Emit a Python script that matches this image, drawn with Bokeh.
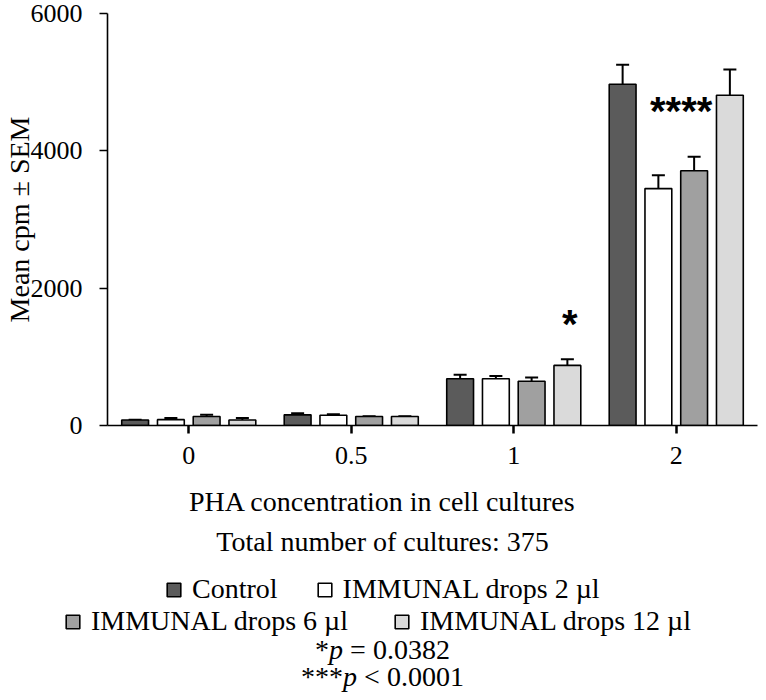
from bokeh.plotting import figure
from bokeh.layouts import column
from bokeh.models import (Range1d, FixedTicker, Whisker, TeeHead, ColumnDataSource,
                          Legend, LegendItem, Label)
from bokeh.transform import dodge
from bokeh.embed import file_html
from bokeh.resources import INLINE

# ---------------- data ----------------
concentrations = ["0", "0.5", "1", "2"]
series_names = ["Control", "IMMUNAL drops 2 µl", "IMMUNAL drops 6 µl", "IMMUNAL drops 12 µl"]
control = [80, 155, 680, 4970]
drops_2 = [85, 150, 680, 3450]
drops_6 = [130, 130, 645, 3710]
drops_12 = [80, 130, 875, 4810]
control_sem = [5, 25, 60, 285]
drops_2_sem = [25, 15, 40, 195]
drops_6_sem = [25, 5, 55, 205]
drops_12_sem = [30, 5, 90, 375]
y_ticks = [0, 2000, 4000, 6000]
sig_marks = ["*", "****"]          # over "1" (12 µl) and over "2" (group)
sig_mark_x = [2.345, 3.03]
sig_mark_y = [1485, 4573]
footer_total = "Total number of cultures: 375"
x_title = "PHA concentration in cell cultures"
y_title = "Mean cpm ± SEM"
p_notes = [("*", "p", "= 0.0382"), ("***", "p", "< 0.0001")]

series_values = [control, drops_2, drops_6, drops_12]
series_sem = [control_sem, drops_2_sem, drops_6_sem, drops_12_sem]
colors = ["#5b5b5b", "#ffffff", "#a0a0a0", "#dadada"]
offsets = [-0.33, -0.11, 0.11, 0.33]
BAR_W = 0.165
SERIF = "Liberation Serif"

W = 758
H_TOP = 485
H_BOT = 692 - H_TOP

# ---------------- main chart ----------------
p = figure(width=W, height=H_TOP, output_backend="svg", toolbar_location=None,
           x_range=Range1d(-0.5, 3.5), y_range=Range1d(0, 6000),
           min_border_left=106, min_border_right=1, min_border_top=13,
           min_border_bottom=H_TOP - 425)
p.frame_align = False
p.outline_line_color = None
p.grid.grid_line_color = None

group_idx = list(range(len(concentrations)))
for vals, sems, col, off in zip(series_values, series_sem, colors, offsets):
    src = ColumnDataSource(dict(x=group_idx, top=vals,
                                upper=[v + s for v, s in zip(vals, sems)]))
    w = Whisker(source=src, base=dodge("x", off), lower="top", upper="upper",
                dimension="height", line_color="black", line_width=2,
                lower_head=None,
                upper_head=TeeHead(size=13, line_width=2, line_color="black"))
    p.add_layout(w)
    p.vbar(x=dodge("x", off), top="top", width=BAR_W, source=src,
           fill_color=col, line_color="black", line_width=1.6)

p.xaxis.ticker = FixedTicker(ticks=group_idx)
p.xaxis.major_label_overrides = {i: c for i, c in enumerate(concentrations)}
p.xaxis.minor_tick_line_color = None
p.xaxis.major_tick_in = 0
p.xaxis.major_tick_out = 8
p.xaxis.major_tick_line_width = 2.5
p.xaxis.axis_line_width = 1.6
p.xaxis.major_label_text_font = SERIF
p.xaxis.major_label_text_font_size = "26px"
p.xaxis.major_label_text_color = "black"
p.xaxis.major_label_standoff = 13

p.yaxis.ticker = FixedTicker(ticks=y_ticks)
p.yaxis.minor_tick_line_color = None
p.yaxis.major_tick_in = 0
p.yaxis.major_tick_out = 8
p.yaxis.major_tick_line_width = 1.6
p.yaxis.axis_line_width = 1.6
p.yaxis.major_label_text_font = SERIF
p.yaxis.major_label_text_font_size = "26px"
p.yaxis.major_label_text_color = "black"
p.yaxis.major_label_standoff = 17
p.yaxis.axis_label = y_title
p.yaxis.axis_label_text_font = SERIF
p.yaxis.axis_label_text_font_size = "28px"
p.yaxis.axis_label_text_font_style = "normal"
p.yaxis.axis_label_text_color = "black"
p.yaxis.axis_label_standoff = -7

for txt, sx, sy in zip(sig_marks, sig_mark_x, sig_mark_y):
    p.add_layout(Label(x=sx, y=sy, text=txt, text_font="Liberation Sans",
                       text_font_style="bold", text_font_size="40px",
                       text_align="center", text_baseline="middle",
                       text_color="black"))

# ---------------- footer: axis title, notes, legend ----------------
q = figure(width=W, height=H_BOT, output_backend="svg", toolbar_location=None,
           x_range=Range1d(0, W), y_range=Range1d(0, H_BOT),
           x_axis_location=None, y_axis_location=None,
           min_border=0, min_border_left=0, min_border_right=0,
           min_border_top=0, min_border_bottom=0)
q.frame_align = False
q.outline_line_color = None
q.grid.visible = False

def img_y(yy):
    return 692 - yy

CX = 382
EM = 28.0
def add_text(txt, x, yy, align="center", style="normal"):
    q.add_layout(Label(x=x, y=img_y(yy), text=txt,
                       text_font=SERIF, text_font_size="28px", text_font_style=style,
                       text_align=align, text_baseline="middle", text_color="black"))

add_text(x_title, CX, 501)
add_text(footer_total, CX, 541)

# "*p = 0.0382" / "***p < 0.0001" with an italic p (Times metrics)
for (stars, pch, rest), yy in zip(p_notes, [649, 676]):
    w_st = 0.5 * EM * len(stars)
    w_p = 0.5 * EM
    w_rest = (0.25 + 0.564 + 0.25 + 2.75) * EM
    x0 = CX - (w_st + w_p + w_rest) / 2
    add_text(stars, x0, yy, "left")
    add_text(pch, x0 + w_st, yy, "left", "italic")
    add_text(rest, x0 + w_st + w_p + 0.25 * EM, yy, "left")

# legend keys: hidden copies of the bar series (their styling feeds the legend)
key_renderers = []
for vals, col in zip(series_values, colors):
    r = q.vbar(x=group_idx, top=vals, width=BAR_W, fill_color=col, line_color="black",
               line_width=1.6, visible=False)
    key_renderers.append(r)

def make_legend(idxs, loc, spacing):
    lg = Legend(items=[LegendItem(label=series_names[i], renderers=[key_renderers[i]]) for i in idxs],
                location=loc, orientation="horizontal", padding=0, margin=0,
                spacing=spacing, label_standoff=10, glyph_width=17, glyph_height=17,
                label_text_font=SERIF, label_text_font_size="28px",
                label_text_color="black", border_line_alpha=0,
                background_fill_alpha=0, inactive_fill_alpha=0)
    q.add_layout(lg, "center")

LEG_H = 34
make_legend([0, 1], (165, img_y(588) - LEG_H / 2), 38)
make_legend([2, 3], (64, img_y(620) - LEG_H / 2), 45)

layout = column(p, q, spacing=0)
open("out.html", "w").write(file_html(layout, INLINE))
